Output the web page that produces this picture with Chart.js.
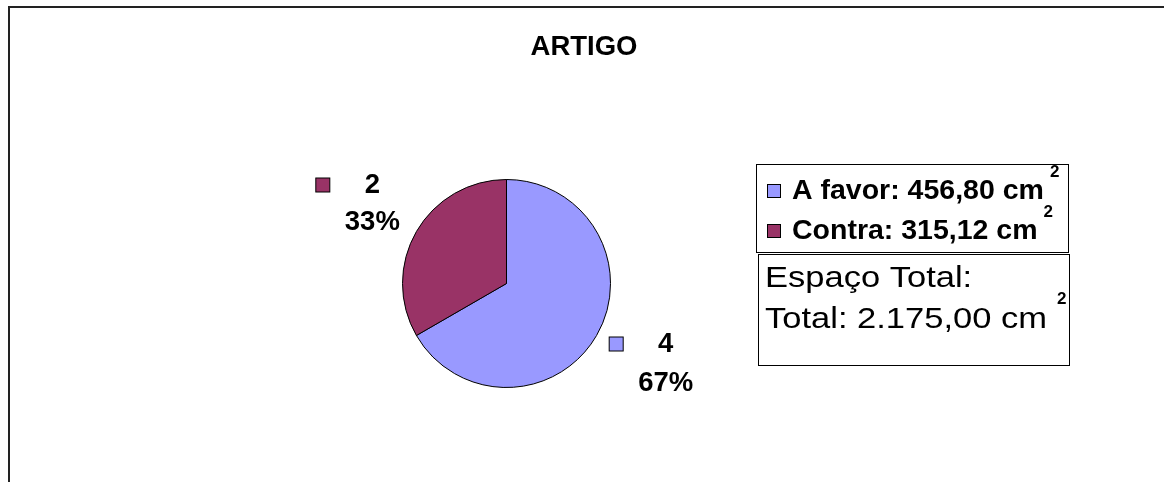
<!DOCTYPE html>
<html>
<head>
<meta charset="utf-8">
<script src="https://cdn.jsdelivr.net/npm/chart.js@4/dist/chart.umd.min.js"></script>
<style>
  html, body { margin: 0; padding: 0; background: #fff; }
  #wrap { width: 1164px; height: 482px; position: relative; }
</style>
</head>
<body>
<div id="wrap"><canvas id="artigo-chart" width="1164" height="482"></canvas></div>
<script>
// chart data
const chartTitle = 'ARTIGO';
const sliceLabels = ['A favor: 456,80 cm', 'Contra: 315,12 cm'];
const sliceValues = [4, 2];
const sliceColors = ['#9999FF', '#993366'];
const noteLines = ['Espaço Total:', 'Total: 2.175,00 cm'];

const FONT = '"Liberation Sans", Arial, sans-serif';

// outer frame + title
const framePlugin = {
    id: 'frame',
    beforeDraw: function (chart) {
        const ctx = chart.ctx;
        ctx.save();
        ctx.fillStyle = '#fff';
        ctx.fillRect(0, 0, chart.width, chart.height);
        ctx.strokeStyle = '#222';
        ctx.lineWidth = 2;
        ctx.beginPath();
        ctx.moveTo(9, chart.height);
        ctx.lineTo(9, 7);
        ctx.lineTo(chart.width, 7);
        ctx.stroke();

        ctx.fillStyle = '#000';
        ctx.font = 'bold 27.5px ' + FONT;
        ctx.textAlign = 'center';
        ctx.textBaseline = 'middle';
        ctx.fillText(chartTitle, 584, 47);
        ctx.restore();
    }
};

// value + percent labels next to each slice, with a colour key
const sliceLabelPlugin = {
    id: 'sliceLabels',
    afterDatasetsDraw: function (chart) {
        const ctx = chart.ctx;
        const meta = chart.getDatasetMeta(0);
        const total = sliceValues.reduce((a, b) => a + b, 0);
        ctx.save();
        ctx.font = 'bold 27.5px ' + FONT;
        ctx.textBaseline = 'middle';
        ctx.textAlign = 'center';
        meta.data.forEach((arc, i) => {
            const p = arc.getProps(['x', 'y', 'startAngle', 'endAngle', 'outerRadius'], true);
            const mid = (p.startAngle + p.endAngle) / 2;
            const ax = p.x + Math.cos(mid) * (p.outerRadius + 14);
            const ay = p.y + Math.sin(mid) * (p.outerRadius + 14);
            let x0, row1, row2;
            if (Math.cos(mid) >= 0) {
                x0 = ax;
                row1 = ay + 2;
                row2 = row1 + 39;
            } else {
                x0 = ax - 89;
                row2 = ay - 2;
                row1 = row2 - 37;
            }
            const pct = Math.round(sliceValues[i] / total * 100) + '%';
            ctx.fillStyle = sliceColors[i];
            ctx.fillRect(x0 + 0.5, row1 - 7.5, 14, 14);
            ctx.strokeStyle = '#000';
            ctx.lineWidth = 1;
            ctx.strokeRect(x0 + 0.5, row1 - 7.5, 14, 14);
            ctx.fillStyle = '#000';
            ctx.fillText(String(sliceValues[i]), x0 + 57, row1);
            ctx.fillText(pct, x0 + 57, row2);
        });
        ctx.restore();
    }
};

function drawSup(ctx, text, x, y, weight) {
    ctx.save();
    ctx.font = weight + ' 17px ' + FONT;
    ctx.textAlign = 'left';
    ctx.fillText(text, x, y);
    ctx.restore();
}

// legend box and the note box under it
const legendPlugin = {
    id: 'boxLegend',
    afterDraw: function (chart) {
        const ctx = chart.ctx;
        ctx.save();
        ctx.strokeStyle = '#000';
        ctx.lineWidth = 1;
        ctx.strokeRect(756.5, 164.5, 312, 88);
        ctx.strokeRect(758.5, 254.5, 311, 111);

        ctx.textBaseline = 'middle';
        ctx.textAlign = 'left';
        const rows = [191, 231];
        sliceLabels.forEach((label, i) => {
            ctx.fillStyle = sliceColors[i];
            ctx.fillRect(767.5, rows[i] - 6.5, 13, 13);
            ctx.strokeStyle = '#000';
            ctx.strokeRect(767.5, rows[i] - 6.5, 13, 13);
            ctx.fillStyle = '#000';
            ctx.font = 'bold 28.5px ' + FONT;
            ctx.fillText(label, 792, rows[i]);
            const w = ctx.measureText(label).width;
            drawSup(ctx, '2', 792 + w + 6, rows[i] - 19, 'bold');
        });

        ctx.font = '29px ' + FONT;
        ctx.fillStyle = '#000';
        const noteRows = [279, 320];
        noteLines.forEach((line, i) => {
            ctx.save();
            ctx.translate(765, noteRows[i]);
            ctx.scale(1.19, 1);
            ctx.fillText(line, 0, 0);
            ctx.restore();
        });
        const w = ctx.measureText(noteLines[1]).width * 1.19;
        drawSup(ctx, '2', 765 + w + 10, noteRows[1] - 21, 'bold');
        ctx.restore();
    }
};

new Chart(document.getElementById('artigo-chart').getContext('2d'), {
    type: 'pie',
    data: {
        labels: sliceLabels,
        datasets: [{
            data: sliceValues,
            backgroundColor: sliceColors,
            borderColor: '#000',
            borderWidth: 1
        }]
    },
    options: {
        responsive: false,
        animation: false,
        devicePixelRatio: 1,
        layout: {
            padding: { left: 402, top: 179, right: 553, bottom: 94 }
        },
        plugins: {
            legend: { display: false },
            title: { display: false },
            tooltip: { enabled: false }
        }
    },
    plugins: [framePlugin, sliceLabelPlugin, legendPlugin]
});
</script>
</body>
</html>
